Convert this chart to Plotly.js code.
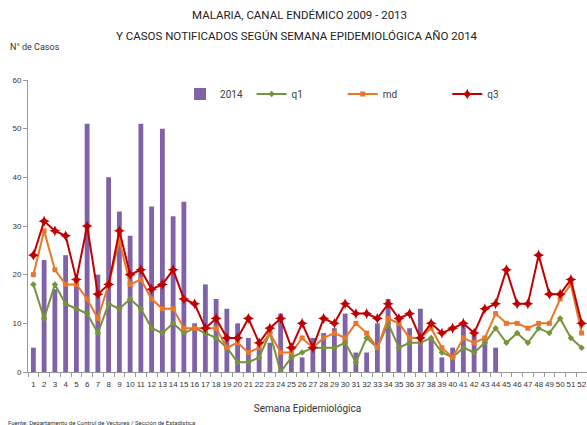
<!DOCTYPE html>
<html>
<head>
<meta charset="utf-8">
<script src="https://cdn.plot.ly/plotly-3.0.1.min.js"></script>
<style>html,body{margin:0;padding:0;background:#fff;}#chart{width:587px;height:425px;}</style>
</head>
<body>
<div id="chart"></div>
<script>
const weeks = Array.from({length: 52}, (_, i) => String(i + 1));
const cases2014 = [5,23,17,24,19,51,20,40,33,28,51,34,50,32,35,10,18,15,13,10,7,5,6,12,4,3,7,8,9,12,4,4,10,15,11,9,13,7,3,5,10,8,7,5,null,null,null,null,null,null,null,null];
const q1 = [18,11,18,14,13,12,8,14,13,15,13,9,8,10,8,9,8,7,5,2,2,3,8,0,3,4,5,5,5,6,2,7,5,10,5,6,6,7,4,3,5,4,6,9,6,8,6,9,8,11,7,5];
const md = [20,29,21,18,18,15,11,18,27,18,19,15,13,13,9,9,9,9,5,6,4,5,8,4,4,7,5,7,8,7,10,8,5,11,10,7,7,9,5,3,7,6,7,12,10,10,9,10,10,15,18,8];
const q3 = [24,31,29,28,19,30,16,18,29,20,21,17,18,21,15,14,9,11,7,7,11,6,9,11,5,10,5,11,10,14,12,12,11,14,11,12,7,10,8,9,10,8,13,14,21,14,14,24,16,16,19,10];
const titleLines = ['MALARIA, CANAL ENDÉMICO 2009 - 2013', 'Y CASOS NOTIFICADOS SEGÚN SEMANA EPIDEMIOLÓGICA AÑO 2014'];

const lineStyle = (color, symbol, size) => ({
  type: 'scatter', mode: 'lines+markers', x: weeks,
  line: {color: color, width: 2},
  marker: {color: color, symbol: symbol, size: size}
});

const data = [
  {type: 'bar', name: '2014', x: weeks, y: cases2014, marker: {color: '#7F62A8'}, legend: 'legend'},
  Object.assign(lineStyle('#77933C', 'diamond', 5), {name: 'q1', y: q1, legend: 'legend2'}),
  Object.assign(lineStyle('#E8772E', 'square', 5), {name: 'md', y: md, legend: 'legend3'}),
  Object.assign(lineStyle('#C00000', 'star-diamond', 8), {name: 'q3', y: q3, legend: 'legend4'})
];

const font = 'Roboto, Open Sans, sans-serif';
const leg = (x) => ({orientation: 'h', x: x, y: 0.952, xanchor: 'left', yanchor: 'middle',
  itemwidth: 30, font: {size: 10, color: '#404040'}, bgcolor: 'rgba(0,0,0,0)'});

const layout = {
  width: 587, height: 425,
  margin: {l: 28, r: 0, t: 80, b: 53},
  paper_bgcolor: '#fff', plot_bgcolor: '#fff',
  showlegend: true,
  bargap: 0.55,
  font: {family: font, color: '#404040', size: 10},
  legend: leg(0.272), legend2: leg(0.40), legend3: leg(0.563), legend4: leg(0.75),
  xaxis: {type: 'category', range: [-0.5, 51.5], showline: true, linecolor: '#999', linewidth: 1,
          ticks: 'outside', tickson: 'boundaries', ticklen: 4, tickcolor: '#999',
          tickmode: 'linear', dtick: 1, ticklabelstandoff: 4,
          tickangle: 0, tickfont: {family: 'Liberation Sans, sans-serif', size: 8, color: '#333'},
          showgrid: false, zeroline: false,
          title: {text: 'Semana Epidemiológica', font: {size: 10, color: '#333'}, standoff: 17}},
  yaxis: {range: [0, 60], dtick: 10, showline: true, linecolor: '#999', linewidth: 1,
          ticks: 'outside', ticklen: 4, tickcolor: '#999', showgrid: false, zeroline: false,
          tickfont: {family: 'Liberation Sans, sans-serif', size: 8, color: '#333'}},
  annotations: [
    {text: titleLines[0], xref: 'paper', yref: 'paper', x: (299 - 28) / 559, y: (372 - 15) / 292,
     xanchor: 'center', yanchor: 'middle', showarrow: false, font: {family: font, size: 11.5, color: '#222'}},
    {text: titleLines[1], xref: 'paper', yref: 'paper', x: (297 - 28) / 559, y: (372 - 36) / 292,
     xanchor: 'center', yanchor: 'middle', showarrow: false, font: {family: font, size: 11.5, color: '#222'}},
    {text: 'N° de Casos', xref: 'paper', yref: 'paper', x: -0.036, y: (372 - 47) / 292, xanchor: 'left', yanchor: 'middle',
     showarrow: false, font: {size: 9, color: '#333'}},
    {text: 'Fuente: Departamento de Control de Vectores / Sección de Estadística', xref: 'paper', yref: 'paper',
     x: -0.04, y: -0.172, xanchor: 'left', yanchor: 'middle', showarrow: false, font: {size: 6, color: '#333'}}
  ]
};

Plotly.newPlot('chart', data, layout, {displayModeBar: false, staticPlot: true});
</script>
</body>
</html>
